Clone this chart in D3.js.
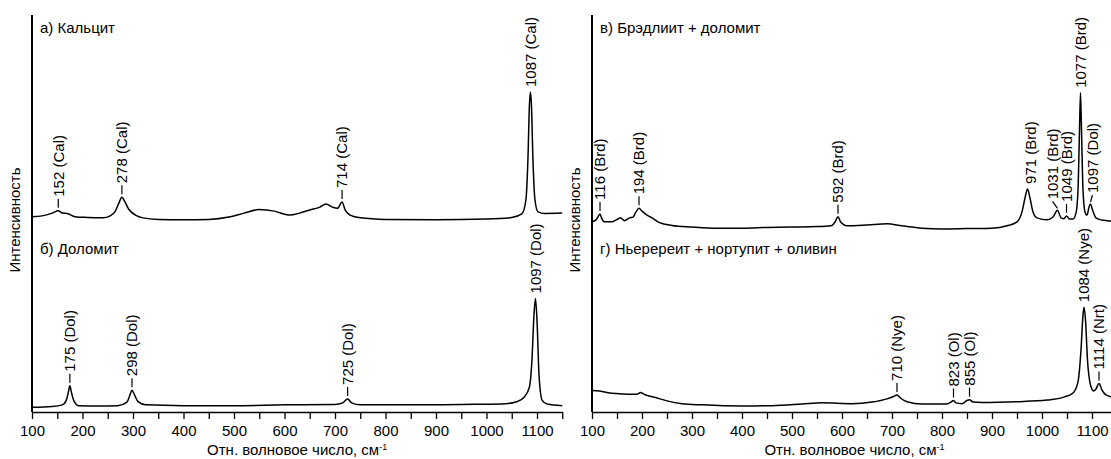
<!DOCTYPE html>
<html>
<head>
<meta charset="utf-8">
<script src="https://cdnjs.cloudflare.com/ajax/libs/d3/7.8.5/d3.min.js"></script>
<style>
    body { margin: 0; background: #fff; }
    svg text { font-family: "Liberation Sans", Arial, sans-serif; fill: #000; }
</style>
</head>
<body>
<svg id="chart" width="1111" height="459"></svg>
<script>
// Raman spectra, [wavenumber cm-1, intensity (stacked, arb. units)]
var calciteSpectrum = [
    [100, 49.2], [120, 49.4], [140, 50.1], [152, 50.7], [160, 50.1], [170, 50.0], [185, 49.2],
    [210, 49.0], [240, 48.9], [255, 49.4], [265, 50.6], [272, 52.6], [278, 54.1], [284, 52.9],
    [292, 51.0], [305, 49.6], [320, 48.9], [350, 48.5], [400, 48.4], [450, 48.5], [490, 49.1],
    [520, 50.1], [550, 51.0], [580, 50.6], [610, 49.6], [630, 50.1], [650, 50.9], [670, 51.6],
    [682, 52.4], [695, 51.6], [705, 51.3], [714, 52.9], [720, 50.9], [730, 49.6], [750, 48.9],
    [800, 48.5], [900, 48.4], [1000, 48.6], [1050, 49.0], [1070, 49.9], [1078, 53.4], [1082, 63.5],
    [1085, 77.3], [1087, 80.6], [1089, 77.3], [1092, 63.5], [1096, 53.4], [1102, 50.4], [1115, 50.0],
    [1150, 50.1]
];
var dolomiteSpectrum = [
    [100, 1.2], [140, 1.4], [160, 1.8], [168, 3.0], [172, 5.0], [175, 6.6], [178, 5.0], [183, 2.8],
    [192, 1.6], [230, 1.5], [270, 1.6], [288, 2.5], [294, 4.3], [298, 5.5], [303, 4.3], [310, 2.6],
    [325, 1.8], [400, 1.6], [500, 1.6], [600, 1.8], [700, 1.9], [715, 2.3], [725, 3.3], [733, 2.3],
    [750, 1.8], [850, 1.8], [950, 1.9], [1030, 2.0], [1060, 2.6], [1075, 3.8], [1085, 6.3],
    [1090, 13.1], [1094, 24.4], [1097, 28.6], [1100, 23.2], [1104, 9.3], [1110, 3.0], [1120, 2.0],
    [1150, 1.6]
];
var bradleyiteSpectrum = [
    [100, 47.9], [108, 48.4], [113, 49.4], [116, 49.9], [119, 48.9], [125, 47.9], [140, 47.9],
    [150, 48.5], [157, 48.9], [165, 48.2], [175, 48.9], [182, 49.1], [188, 50.4], [194, 51.3],
    [200, 50.6], [210, 49.6], [220, 48.9], [235, 47.7], [260, 47.0], [300, 46.6], [350, 46.3],
    [400, 46.3], [450, 46.5], [500, 46.6], [550, 46.7], [580, 47.0], [587, 48.1], [592, 49.2],
    [597, 47.9], [610, 46.9], [650, 47.1], [690, 47.4], [720, 46.9], [760, 46.3], [800, 46.1],
    [850, 46.2], [900, 46.3], [930, 46.9], [950, 47.9], [960, 50.4], [966, 53.9], [971, 56.2],
    [976, 53.9], [982, 50.4], [990, 48.9], [1010, 48.4], [1022, 49.1], [1031, 50.8], [1038, 48.9],
    [1044, 48.7], [1049, 49.4], [1055, 48.6], [1062, 48.6], [1068, 50.1], [1072, 55.9], [1075, 71.0],
    [1077, 80.4], [1079, 71.0], [1082, 55.9], [1086, 50.4], [1090, 49.6], [1094, 51.6], [1097, 52.4],
    [1101, 50.9], [1108, 48.9], [1118, 48.4], [1130, 48.2], [1145, 48.1]
];
var nyerereiteSpectrum = [
    [100, 5.4], [115, 5.3], [140, 4.7], [170, 4.5], [190, 4.5], [197, 4.9], [205, 4.4], [225, 3.7],
    [250, 2.8], [280, 2.1], [320, 1.8], [400, 1.5], [460, 1.6], [520, 2.0], [560, 2.3], [620, 2.1],
    [660, 2.5], [690, 3.3], [703, 3.9], [710, 4.3], [718, 3.4], [730, 2.6], [760, 2.0], [810, 2.0],
    [818, 2.5], [823, 2.9], [828, 2.3], [840, 2.1], [850, 2.9], [855, 3.1], [862, 2.5], [880, 2.4],
    [950, 2.6], [1010, 3.0], [1045, 3.8], [1062, 4.8], [1072, 7.6], [1078, 15.6], [1082, 24.4],
    [1084, 26.4], [1087, 23.2], [1091, 13.1], [1097, 6.8], [1103, 5.3], [1108, 5.8], [1114, 7.2],
    [1120, 5.5], [1128, 4.3], [1140, 3.8]
];

// band labels: lead = 'dash' | 'none' | 'slant'
var calciteBands = [
    { wn: 152, text: '152 (Cal)', lead: 'dash' },
    { wn: 278, text: '278 (Cal)', lead: 'dash' },
    { wn: 714, text: '714 (Cal)', lead: 'dash' },
    { wn: 1087, text: '1087 (Cal)', lead: 'none' }
];
var dolomiteBands = [
    { wn: 175, text: '175 (Dol)', lead: 'dash' },
    { wn: 298, text: '298 (Dol)', lead: 'dash' },
    { wn: 725, text: '725 (Dol)', lead: 'dash' },
    { wn: 1097, text: '1097 (Dol)', lead: 'none' }
];
var bradleyiteBands = [
    { wn: 116, text: '116 (Brd)', lead: 'dash' },
    { wn: 194, text: '194 (Brd)', lead: 'dash' },
    { wn: 592, text: '592 (Brd)', lead: 'dash' },
    { wn: 971, text: '971 (Brd)', lead: 'none' },
    { wn: 1031, text: '1031 (Brd)', lead: 'slant' },
    { wn: 1049, text: '1049 (Brd)', lead: 'dash' },
    { wn: 1077, text: '1077 (Brd)', lead: 'none' },
    { wn: 1097, text: '1097 (Dol)', lead: 'slant' }
];
var nyerereiteBands = [
    { wn: 710, text: '710 (Nye)', lead: 'dash' },
    { wn: 823, text: '823 (Ol)', lead: 'dash' },
    { wn: 855, text: '855 (Ol)', lead: 'dash' },
    { wn: 1084, text: '1084 (Nye)', lead: 'none' },
    { wn: 1114, text: '1114 (Nrt)', lead: 'dash' }
];

var xTicks = [100, 150, 200, 250, 300, 350, 400, 450, 500, 550, 600, 650,
    700, 750, 800, 850, 900, 950, 1000, 1050, 1100, 1150];
var xDomain = [100, 1150];
var yDomain = [0, 100];

var panelTitles = ['а) Кальцит', 'б) Доломит', 'в) Брэдлиит + доломит', 'г) Ньеререит + нортупит + оливин'];
var yTitle = 'Интенсивность';
var xTitle = 'Отн. волновое число, см';

var svg = d3.select('#chart');
var plotTop = 15, plotBottom = 412;

// label x nudges for crowded bands (px)
var nudge = { 971: 3 };

function drawPanel(left, right, spectra, bands, titles) {
    var x = d3.scaleLinear()
        .domain(xDomain)
        .range([left, right]);
    var y = d3.scaleLinear()
        .domain(yDomain)
        .range([plotBottom, plotTop]);
    var g = svg.append('g');

    g.append('g')
        .attr('transform', 'translate(0,' + plotBottom + ')')
        .call(d3.axisBottom(x)
            .tickValues(xTicks)
            .tickSize(7)
            .tickSizeOuter(0)
            .tickFormat(function(d) { return d % 100 == 0 ? d : ''; }))
        .call(function(a) {
            a.select('.domain').attr('stroke-width', 1.5);
            a.selectAll('.tick line').attr('stroke-width', 1.3);
            a.selectAll('.tick text')
                .attr('y', 13)
                .style('font-size', '15px')
                .style('font-family', '"Liberation Sans", Arial, sans-serif');
        });

    // vertical intensity axis, no ticks (drawn as a thin filled rect)
    g.append('rect')
        .attr('x', x(xDomain[0]) - 1)
        .attr('y', y(yDomain[1]))
        .attr('width', 2)
        .attr('height', y(yDomain[0]) - y(yDomain[1]))
        .attr('fill', '#000');

    var line = d3.line()
        .x(function(d) { return x(d[0]); })
        .y(function(d) { return y(d[1]); })
        .curve(d3.curveMonotoneX);

    spectra.forEach(function(s, i) {
        g.append('path')
            .datum(s)
            .attr('d', line)
            .attr('fill', 'none')
            .attr('stroke', '#000')
            .attr('stroke-width', 1.5)
            .attr('stroke-linejoin', 'round');

        bands[i].forEach(function(b) {
            var near = s.filter(function(d) { return Math.abs(d[0] - b.wn) <= 4; });
            var py = y(d3.max(near, function(d) { return d[1]; }));
            var px = x(b.wn);
            var tx = px + (nudge[b.wn] || 0);
            var ty;
            if (b.lead == 'dash') {
                g.append('line')
                    .attr('x1', px).attr('x2', px)
                    .attr('y1', py - 3).attr('y2', py - 12)
                    .attr('stroke', '#000').attr('stroke-width', 1.2);
                ty = py - 14;
            } else if (b.lead == 'slant') {
                var sx = b.wn == 1097 ? 2 : -5;
                tx = px + sx;
                g.append('line')
                    .attr('x1', px).attr('x2', px + sx)
                    .attr('y1', py - 2).attr('y2', py - 9)
                    .attr('stroke', '#000').attr('stroke-width', 1.2);
                ty = py - 11;
            } else {
                ty = py - 5;
            }
            g.append('text')
                .attr('transform', 'translate(' + tx + ',' + ty + ') rotate(-90)')
                .attr('dy', '0.35em')
                .style('font-size', '15px')
                .text(b.text);
        });
    });

    g.append('text')
        .attr('x', left + 8).attr('y', 33)
        .style('font-size', '15px')
        .text(titles[0]);
    g.append('text')
        .attr('x', left + 8).attr('y', 254)
        .style('font-size', '15px')
        .text(titles[1]);

    g.append('text')
        .attr('transform', 'translate(' + (left - 12) + ',220) rotate(-90)')
        .attr('text-anchor', 'middle')
        .style('font-size', '15px')
        .text(yTitle);

    var xt = g.append('text')
        .attr('x', (left + right) / 2).attr('y', 455)
        .attr('text-anchor', 'middle')
        .style('font-size', '15px')
        .text(xTitle);
    xt.append('tspan')
        .attr('dy', -5)
        .style('font-size', '9px')
        .text('-1');
}

drawPanel(32, 562.25, [calciteSpectrum, dolomiteSpectrum], [calciteBands, dolomiteBands], panelTitles.slice(0, 2));
drawPanel(592, 1117, [bradleyiteSpectrum, nyerereiteSpectrum], [bradleyiteBands, nyerereiteBands], panelTitles.slice(2, 4));
</script>
</body>
</html>
